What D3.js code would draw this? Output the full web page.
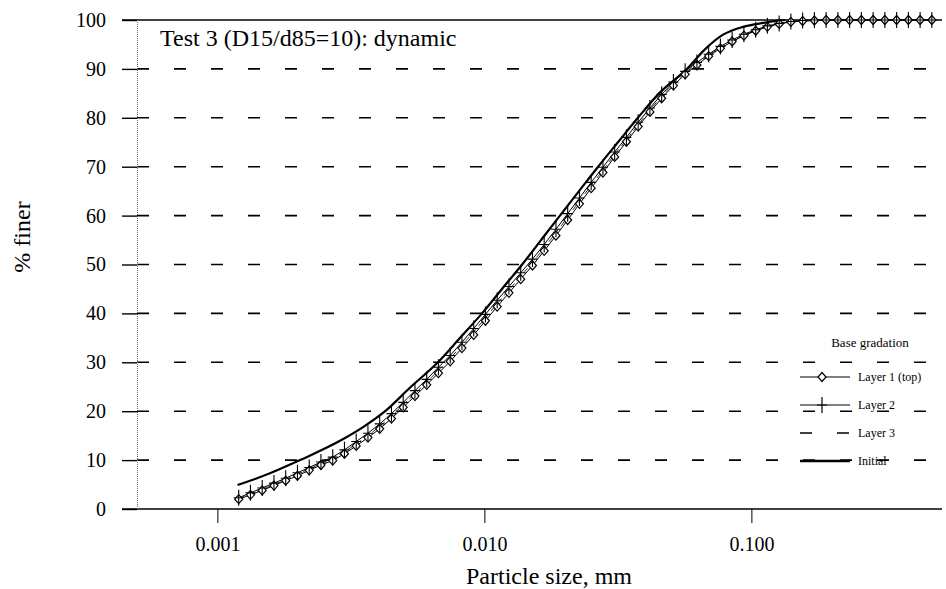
<!DOCTYPE html>
<html><head><meta charset="utf-8">
<script src="https://cdn.jsdelivr.net/npm/d3@7"></script>
<style>
body{margin:0;background:#fff;}
svg{display:block;font-family:"Liberation Serif","Times New Roman",serif;}
</style></head>
<body><svg id="c" width="946" height="589"></svg>
<script>
// ---- data ----
const layerSizes = [0.001202,0.001330,0.001472,0.001629,0.001803,0.001995,0.002208,0.002443,0.002704,0.002992,
 0.003311,0.003664,0.004055,0.004487,0.004966,0.005495,0.006081,0.006730,0.007447,0.008241,
 0.009120,0.01009,0.01117,0.01236,0.01368,0.01514,0.01675,0.01854,0.02051,0.02270,
 0.02512,0.02780,0.03076,0.03404,0.03767,0.04169,0.04613,0.05105,0.05649,0.06252,
 0.06918,0.07656,0.08472,0.09376,0.1038,0.1148,0.1271,0.1406,0.1556,0.1722,
 0.1905,0.2109,0.2333,0.2582,0.2858,0.3162,0.3499,0.3873,0.4285,0.4742];
const layer1 = [2.0,2.9,3.8,4.8,5.8,6.8,7.9,9.0,9.9,11.3,
 12.9,14.6,16.4,18.5,20.8,23.1,25.4,27.8,30.2,32.9,
 35.6,38.5,41.4,44.2,47.0,49.8,52.8,55.9,59.1,62.4,
 65.6,68.8,72.0,75.1,78.2,81.2,84.0,86.6,88.9,90.8,
 92.6,94.2,95.6,96.8,97.8,98.6,99.2,99.6,99.8,99.9,
 100,100,100,100,100,100,100,100,100,100];
const layer2 = [2.3,3.3,4.3,5.3,6.3,7.4,8.5,9.6,10.6,12.1,
 13.8,15.5,17.4,19.5,21.8,24.2,26.5,29.0,31.4,34.1,
 36.9,39.8,42.7,45.5,48.3,51.1,54.1,57.2,60.4,63.6,
 66.8,69.9,73.0,76.0,79.1,82.0,84.8,87.3,89.5,91.3,
 93.0,94.6,95.9,97.1,98.0,98.8,99.3,99.7,99.9,100,
 100,100,100,100,100,100,100,100,100,100];
const layer3 = [2.1,3.1,4.0,5.0,6.0,7.1,8.2,9.3,10.3,11.7,
 13.3,15.0,16.9,19.0,21.3,23.6,25.9,28.4,30.8,33.5,
 36.2,39.1,42.0,44.8,47.6,50.4,53.4,56.5,59.7,63.0,
 66.2,69.3,72.5,75.5,78.6,81.6,84.4,87.0,89.2,91.0,
 92.8,94.4,95.7,96.9,97.9,98.7,99.3,99.6,99.8,99.9,
 100,100,100,100,100,100,100,100,100,100];
const initialSizes = [0.00119,0.001574,0.00204,0.00296,0.00357,0.00425,0.00526,0.00670,0.00811,0.00980,
 0.01164,0.01385,0.01630,0.01919,0.02261,0.02667,0.03164,0.03758,0.04550,0.05741,
 0.06699,0.07834,0.09305,0.1107,0.1337];
const initial = [4.9,7.3,10.0,14.3,17.0,20.0,24.8,30.0,35.0,40.0,
 45.0,50.0,55.0,60.0,65.0,70.0,75.0,80.0,85.2,90.0,
 94.0,97.0,98.6,99.4,100];
const xTickValues = [0.001,0.01,0.1];
const xTickLabels = ["0.001","0.010","0.100"];
const yTickValues = [0,10,20,30,40,50,60,70,80,90,100];
const yGridValues = [10,20,30,40,50,60,70,80,90];
const yMinorValues = [5,15,25,35,45,55,65,75,85,95];
const legendNames = ["Layer 1 (top)","Layer 2","Layer 3","Initial"];
const titleText = "Test 3 (D15/d85=10): dynamic";

// ---- scales ----
const svg = d3.select("#c");
const x = d3.scaleLog().domain([0.0005,0.5]).range([137,938]);
const y = d3.scaleLinear().domain([0,100]).range([509,20]);
const font = '"Liberation Serif","Times New Roman",serif';

// grid
svg.append("g").selectAll("line").data(yGridValues).join("line")
  .attr("x1",137).attr("x2",942).attr("y1",d=>y(d)).attr("y2",d=>y(d))
  .attr("stroke","#000").attr("stroke-width",1.6).attr("stroke-dasharray","12,25");
svg.append("line").attr("x1",122).attr("x2",942).attr("y1",y(100)).attr("y2",y(100))
  .attr("stroke","#000").attr("stroke-width",1.6);

// x axis
const xMinor = [];
[0.0001,0.001,0.01,0.1].forEach(dec=>{for(let k=2;k<=9;k++){const v=dec*k; if(v>=0.0005&&v<=0.5) xMinor.push(v);}});
const gx = svg.append("g").attr("transform",`translate(0,${y(0)})`);
gx.call(d3.axisBottom(x).tickValues(xMinor).tickSize(6).tickFormat(""));
gx.call(d3.axisBottom(x).tickValues(xTickValues).tickSize(14).tickPadding(14)
  .tickFormat((d,i)=>xTickLabels[i]));
gx.selectAll(".domain").remove();
gx.selectAll("text").attr("font-family",font).attr("font-size",20).attr("fill","#000");
svg.append("line").attr("x1",122).attr("x2",942).attr("y1",y(0)).attr("y2",y(0))
  .attr("stroke","#000").attr("stroke-width",1.6);

// y axis
const gy = svg.append("g").attr("transform","translate(137,0)");
gy.call(d3.axisLeft(y).tickValues(yMinorValues).tickSize(7).tickFormat(""));
gy.call(d3.axisLeft(y).tickValues(yTickValues).tickSize(15).tickPadding(16));
gy.selectAll(".domain").attr("stroke","#666").attr("stroke-dasharray","1,1");
gy.selectAll(".tick line").attr("stroke-width",1.4);
gy.selectAll("text").attr("font-family",font).attr("font-size",20).attr("fill","#000");

// axis titles
svg.append("text").attr("x",549).attr("y",584).attr("text-anchor","middle")
  .attr("font-family",font).attr("font-size",24).text("Particle size, mm");
svg.append("text").attr("transform","translate(30,237) rotate(-90)").attr("text-anchor","middle")
  .attr("font-family",font).attr("font-size",24).text("% finer");
svg.append("text").attr("x",160).attr("y",46).attr("font-family",font).attr("font-size",24).text(titleText);

// series
const line = d3.line().x(d=>x(d[0])).y(d=>y(d[1]));
const l1 = layerSizes.map((s,i)=>[s,layer1[i]]);
const l2 = layerSizes.map((s,i)=>[s,layer2[i]]);
const l3 = layerSizes.map((s,i)=>[s,layer3[i]]);
const ini = initialSizes.map((s,i)=>[s,initial[i]]);

svg.append("path").datum(ini).attr("d",d3.line().x(d=>x(d[0])).y(d=>y(d[1])).curve(d3.curveMonotoneX))
  .attr("fill","none").attr("stroke","#000").attr("stroke-width",2.2);
svg.append("path").datum(l3).attr("d",line).attr("fill","none").attr("stroke","#333").attr("stroke-width",1).attr("stroke-dasharray","6,4");
svg.append("path").datum(l2).attr("d",line).attr("fill","none").attr("stroke","#000").attr("stroke-width",1);
svg.append("path").datum(l1).attr("d",line).attr("fill","none").attr("stroke","#000").attr("stroke-width",1);

const diamond = "M0,-4.5L4,0L0,4.5L-4,0Z";
const plus = "M0,-8V8M-5,0H5";
svg.append("g").selectAll("path").data(l1).join("path")
  .attr("transform",d=>`translate(${x(d[0])},${y(d[1])})`).attr("d",diamond)
  .attr("stroke","#000").attr("stroke-width",1.2).attr("fill","#fff");
svg.append("g").selectAll("path").data(l2).join("path")
  .attr("transform",d=>`translate(${x(d[0])},${y(d[1])})`).attr("d",plus)
  .attr("stroke","#000").attr("stroke-width",1.1).attr("fill","none");

// legend
const lg = svg.append("g");
lg.append("text").attr("x",870).attr("y",347).attr("text-anchor","middle")
  .attr("font-family",font).attr("font-size",13).text("Base gradation");
const rowsY = [377,405,433,461];
legendNames.forEach((name,i)=>{
  const ry = rowsY[i];
  const ln = lg.append("line").attr("x1",800).attr("x2",850).attr("y1",ry).attr("y2",ry).attr("stroke","#000");
  if(i===0){ ln.attr("stroke-width",1.2); lg.append("path").attr("d",diamond).attr("transform",`translate(822,${ry})`).attr("fill","#fff").attr("stroke","#000").attr("stroke-width",1.2);}
  if(i===1){ ln.attr("stroke-width",1.2); lg.append("path").attr("d",plus).attr("transform",`translate(822,${ry})`).attr("stroke","#000").attr("stroke-width",1.2);}
  if(i===2){ ln.attr("stroke-width",1.6).attr("stroke-dasharray","12,25"); }
  if(i===3){ ln.attr("stroke-width",2.4); }
  lg.append("text").attr("x",858).attr("y",ry+4).attr("font-family",font).attr("font-size",12).text(name);
});
</script></body></html>
